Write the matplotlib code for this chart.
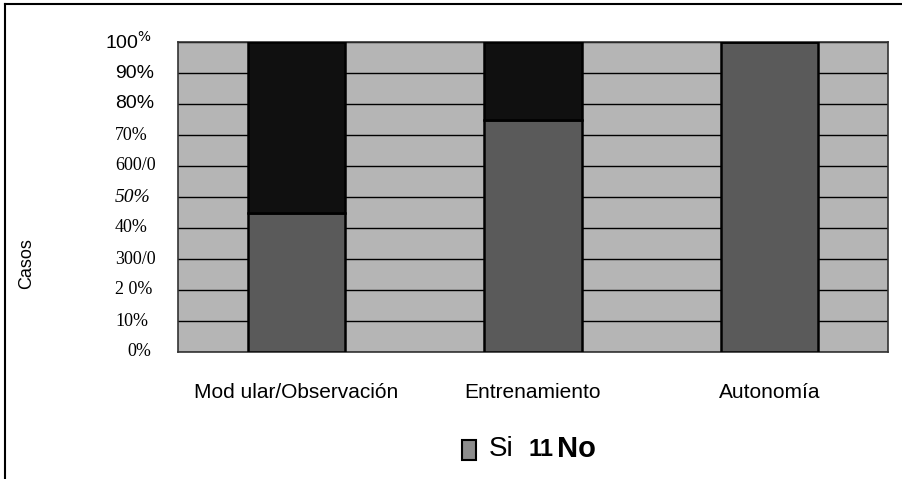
import matplotlib.pyplot as plt
from matplotlib.lines import Line2D
from matplotlib.patches import Rectangle
from matplotlib.transforms import blended_transform_factory

categories = ['Mod ular/Observación', 'Entrenamiento', 'Autonomía']
si_values = [45, 75, 100]
no_values = [55, 25, 0]
tick_values = [0, 10, 20, 30, 40, 50, 60, 70, 80, 90, 100]
tick_labels = ['0%', '10%', '2 0%', '300/0', '40%', '50%', '600/0', '70%', '80%', '90%', '100$^{\\%}$']
# which tick labels look like sans / serif / italic in the scan
tick_styles = ['serif', 'serif', 'serif', 'serif', 'serif', 'italic', 'serif', 'serif', 'sans', 'sans', 'sans']

BG = '#b5b5b5'
SI = '#5a5a5a'
NO = '#101010'
W, H = 903, 479


def px(x, y):
    # pixel position (from top-left) -> figure fraction
    return x / W, 1 - y / H


fig = plt.figure(figsize=(W / 100, H / 100), dpi=100)
fig.patch.set_facecolor('white')
ax = fig.add_axes([178 / W, 1 - 352 / H, 710 / W, 310 / H])
ax.set_facecolor(BG)

x = range(len(categories))
ax.bar(x, si_values, width=0.41, color=SI, edgecolor='black', linewidth=1.8, zorder=3)
ax.bar(x, no_values, width=0.41, bottom=si_values, color=NO, edgecolor='black', linewidth=1.8, zorder=3)

ax.set_xlim(-0.5, 2.5)
ax.set_ylim(0, 100)
ax.set_yticks(tick_values)
ax.set_yticklabels([])
ax.yaxis.grid(True, color='black', linewidth=1.0, zorder=1)
ax.set_axisbelow(True)
ax.tick_params(axis='y', length=0)
ax.tick_params(axis='x', length=0, pad=22)
ax.set_xticks(list(x))
ax.set_xticklabels(categories, fontsize=15, family='Liberation Sans')
for s in ax.spines.values():
    s.set_linewidth(1.2)
    s.set_color('#333333')

# y tick labels drawn one by one to mimic the mixed fonts of the scan
lab_trans = blended_transform_factory(fig.transFigure, ax.transData)
for v, lab, st in zip(tick_values, tick_labels, tick_styles):
    if st == 'sans':
        kw = dict(family='Liberation Sans', fontsize=14)
    elif st == 'italic':
        kw = dict(family='Liberation Serif', fontsize=14, style='italic')
    else:
        kw = dict(family='Liberation Serif', fontsize=13)
    left = 115
    if v == 100:
        left = 105
    elif v == 0:
        left = 127
    ax.text(left / W, v, lab, ha='left', va='center', transform=lab_trans,
            clip_on=False, **kw)

fig.text(*px(27, 264), 'Casos', rotation=90, ha='center', va='center',
         fontsize=13, family='Liberation Sans')

# legend
fig.patches.append(Rectangle(px(462, 460), 14 / W, 20 / H, transform=fig.transFigure,
                             facecolor='#8c8c8c', edgecolor='black', linewidth=1.5))
fig.text(*px(489, 449), 'Si', ha='left', va='center', fontsize=20, family='Liberation Sans')
fig.text(*px(529, 449), '11', ha='left', va='center', fontsize=17,
         family='Liberation Sans', weight='bold')
fig.text(*px(557, 449), 'No', ha='left', va='center', fontsize=21,
         family='Liberation Sans', weight='bold')

# outer frame of the scanned chart
fig.lines.append(Line2D([5 / W, 5 / W], [0, 1 - 4 / H], transform=fig.transFigure,
                        color='black', linewidth=1.5))
fig.lines.append(Line2D([5 / W, 1], [1 - 4 / H, 1 - 4 / H], transform=fig.transFigure,
                        color='black', linewidth=1.5))

fig.savefig('out.png', dpi=100)
